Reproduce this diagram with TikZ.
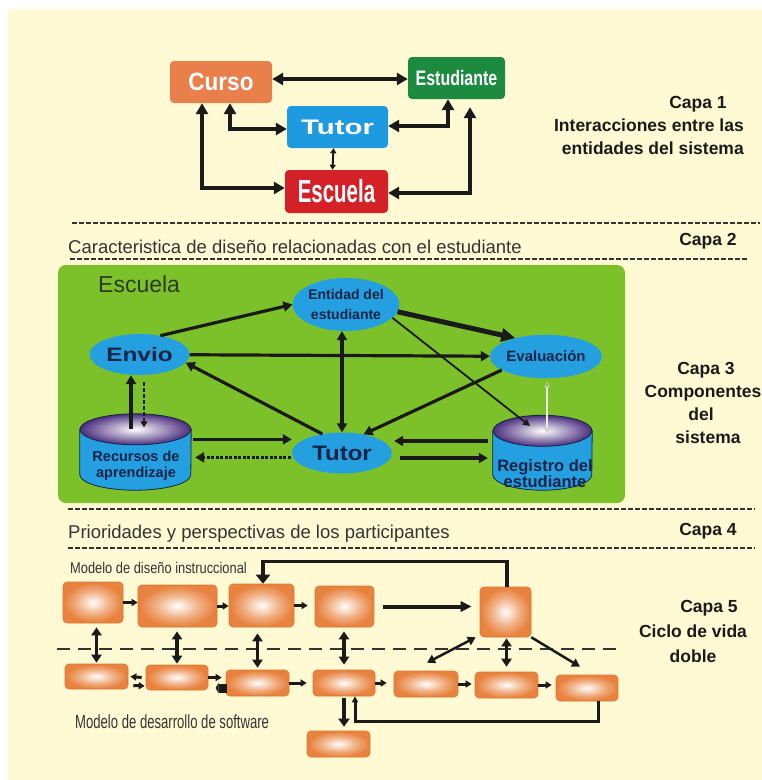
\documentclass[tikz,border=0pt]{standalone}
\usepackage{fontspec}
\setmainfont{Liberation Sans}
\newfontfamily\nbA[FakeStretch=0.9]{Liberation Sans}
\newfontfamily\nbE[FakeStretch=0.64]{Liberation Sans}
\newfontfamily\nbS[FakeStretch=0.76]{Liberation Sans}
\newfontfamily\nbW[FakeStretch=1.4]{Liberation Sans}
\newfontfamily\nbV[FakeStretch=1.14]{Liberation Sans}
\newfontfamily\nbU[FakeStretch=1.25]{Liberation Sans}
\newfontfamily\nrA[FakeStretch=0.83]{Liberation Sans}
\newfontfamily\nrB[FakeStretch=0.69]{Liberation Sans}
\usetikzlibrary{arrows.meta,shapes.geometric}
\newcommand\fz[1]{\fontsize{#1}{#1}\selectfont}
\definecolor{bgY}{HTML}{FFFAD4}
\definecolor{cOr}{HTML}{E9804C}
\definecolor{cGr}{HTML}{1C8A3F}
\definecolor{cBl}{HTML}{1E9BE0}
\definecolor{cRd}{HTML}{D42027}
\definecolor{lime}{HTML}{7DC12A}
\definecolor{ellB}{HTML}{24A0E0}
\definecolor{navy}{HTML}{132448}
\definecolor{boxO}{HTML}{E8833F}
\definecolor{boxE}{HTML}{D9752F}
\definecolor{purp}{HTML}{4B2F7E}
\definecolor{dk}{HTML}{1A1A1A}
\definecolor{dk2}{HTML}{333333}
\definecolor{escT}{HTML}{2B3B20}
\pgfdeclareradialshading{boxsh}{\pgfpoint{0bp}{0bp}}{color(0bp)=(white); color(3bp)=(white!85!boxO); color(14bp)=(boxO!65!white); color(24bp)=(boxO); color(50bp)=(boxO)}
% #1 node name, #2 x radius, #3 y radius
\newcommand\mycyl[3]{%
  \path[draw=navy, fill=ellB, line width=0.8pt] ([yshift=-#3pt]#1.north west) -- ([yshift=#3pt]#1.south west)
    arc[start angle=180, end angle=360, x radius=#2pt, y radius=#3pt] -- ([yshift=-#3pt]#1.north east) -- cycle;
  \shade[inner color=white, outer color=purp, draw=navy, line width=0.8pt] ([yshift=-#3pt]#1.north) ellipse [x radius=#2pt, y radius=#3pt];
}
\begin{document}
\begin{tikzpicture}[x=1pt,y=-1pt,
  l1box/.style={rounded corners=4pt, minimum height=42pt, inner sep=0pt, text=white},
  A1/.style={line width=3.8pt, draw=dk, >={Triangle[length=11pt,width=12pt]}},
  capa/.style={font=\bfseries\fz{17.5}, text=dk, inner sep=0pt, anchor=base},
  sect/.style={font=\fz{18.5}, text=dk2, inner sep=0pt, anchor=base west},
  sepline/.style={draw=dk2, line width=1.6pt, dash pattern=on 5pt off 2pt},
  ell/.style={ellipse, fill=ellB, inner sep=0pt, text=navy, align=center},
  a3/.style={line width=3.2pt, draw=dk, >={Triangle[length=9pt,width=10pt]}},
  ob/.style={rounded corners=4pt, inner sep=0pt, shading=boxsh, draw=boxE, line width=0.6pt},
  a5/.style={line width=3pt, draw=dk, >={Triangle[length=6pt,width=7pt]}},
  a5v/.style={line width=3.5pt, draw=dk, >={Triangle[length=8pt,width=10pt]}},
  a5d/.style={line width=2.5pt, draw=dk, >={Triangle[length=8pt,width=9pt]}}
]
\useasboundingbox (0,0) rectangle (762,780);
\fill[white] (0,0) rectangle (762,780);
\fill[bgY] (8,9) rectangle (762,780);

% ---------- Layer 1
\node[l1box, fill=cOr, minimum width=102pt] (cur) at (221,82) {\nbA\bfseries\fz{25}Curso};
\node[l1box, fill=cGr, minimum width=97pt] (est) at (456.5,78) {\nbS\bfseries\fz{21}Estudiante};
\node[l1box, fill=cBl, minimum width=101pt] (tu1) at (337.5,127) {\nbW\bfseries\fz{21}Tutor};
\node[l1box, fill=cRd, minimum width=103pt, minimum height=43pt] (esc) at (336.5,191.5) {\nbE\bfseries\fz{32}Escuela};

\draw[A1,<->] ([yshift=3pt]cur.east) -- ([yshift=-1pt]est.west);
\draw[A1,<->] ([xshift=-19pt]cur.south) |- ([yshift=3.5pt]esc.west);
\draw[A1,<->] ([xshift=9pt]cur.south) |- ([yshift=-2pt]tu1.west);
\draw[A1,<->] ([xshift=-8.5pt]est.south) |- ([yshift=1pt]tu1.east);
\draw[A1,<->] ([xshift=13.5pt,yshift=-8pt]est.south) |- ([yshift=-1.5pt]esc.east);
\draw[line width=2pt, draw=dk, >={Triangle[length=5pt,width=6pt]}, <->] ([xshift=-4pt]tu1.south) -- ([xshift=-4pt]esc.north);

\node[capa] (c1a) at (698,108) {Capa 1};
\node[capa, anchor=base east] (c1b) at (744,131) {Interacciones entre las};
\node[capa, anchor=base east] (c1c) at (744,154) {entidades del sistema};

% ---------- separators and section titles
\draw[sepline] (72,223) -- (760,223);
\node[sect] (t2) at (68,253) {Caracteristica de diseño relacionadas con el estudiante};
\node[capa] (c2) at (708,245) {Capa 2};
\draw[sepline] (70,259) -- (748,259);

\fill[lime, rounded corners=8pt] (58,265) rectangle (625,503);

\draw[sepline] (68,509) -- (755,509);
\node[sect] (t4) at (68,538) {Prioridades y perspectivas de los participantes};
\node[capa] (c4) at (708,535) {Capa 4};
\draw[sepline] (68,548) -- (755,548);

\node[capa] (c3a) at (706,374) {Capa 3};
\node[capa] (c3b) at (703,397) {Componentes};
\node[capa] (c3c) at (701,420) {del};
\node[capa] (c3d) at (708,443) {sistema};

\node[capa] (c5a) at (709,612) {Capa 5};
\node[capa] (c5b) at (693,637) {Ciclo de vida};
\node[capa] (c5c) at (693,662) {doble};

% ---------- Layer 3
\node[anchor=base west, inner sep=0pt, font=\fz{23}, text=escT] (escL) at (98,292) {Escuela};

\node[ell, minimum width=104pt, minimum height=53pt, font=\bfseries\fontsize{14}{20.5}\selectfont] (ent) at (346,304.5) {Entidad del\\estudiante};
\node[ell, minimum width=100pt, minimum height=41pt, font=\nbU\bfseries\fz{19.5}] (env) at (139.5,354.5) {Envio};
\node[ell, minimum width=100pt, minimum height=43.5pt, font=\bfseries\fz{15}] (eva) at (546,356.5) {Evaluación};
\node[ell, minimum width=100pt, minimum height=41pt, font=\nbV\bfseries\fz{21}] (tut) at (342,453) {Tutor};

\node[inner sep=0pt, minimum width=111pt, minimum height=76pt] (rec) at (135.5,452) {};
\node[inner sep=0pt, minimum width=99pt, minimum height=74.5pt] (reg) at (542.5,452.75) {};
\mycyl{rec}{55.5}{15.5}
\mycyl{reg}{49.5}{15.5}
\node[font=\bfseries\fontsize{14.5}{15.5}\selectfont, text=navy, align=center, inner sep=0pt, anchor=base] (rect) at (136,461.5) {Recursos de};
\node[font=\bfseries\fontsize{14.5}{15.5}\selectfont, text=navy, inner sep=0pt, anchor=base] (rect2) at (136,477) {aprendizaje};
\node[font=\bfseries\fz{16.5}, text=navy, inner sep=0pt, anchor=base] (regt) at (545,471) {Registro del};
\node[font=\bfseries\fz{16.5}, text=navy, inner sep=0pt, anchor=base] (regt2) at (545,487) {estudiante};

\draw[a3,->] (env.42) -- (ent.180);
\draw[a3, line width=5pt, ->, >={Triangle[length=14pt,width=13pt]}] (ent.-8) -- (eva.149);
\draw[a3,->] (env) -- (eva);
\draw[a3,->] (tut.136) -- (env.-10);
\draw[a3,<->] (tut.north) -- (tut.north |- ent.south);
\draw[a3,->] (eva.197) -- (tut.41);
\draw[line width=1.8pt, draw=dk, >={Triangle[length=7pt,width=7pt]}, ->] (ent.-16) -- ([shift={(-12.5,-26.75)}]reg.center);
\draw[a3, line width=4.5pt, ->] ([shift={(-4.5,15)}]rec.north) -- ([shift={(-8.5,0)}]env.south);
\draw[line width=1.6pt, draw=dk, dash pattern=on 4pt off 2pt, >={Triangle[length=6pt,width=7pt]}, ->] ([shift={(4.5,6.7)}]env.south) -- ([shift={(8.5,13.5)}]rec.north);
\draw[a3,->] ([shift={(2,-12.6)}]rec.east) -- ([shift={(0,-13.6)}]tut.west);
\draw[a3, dash pattern=on 3pt off 1.5pt, ->] ([shift={(-1,4.4)}]tut.west) -- ([shift={(4,5.4)}]rec.east);
\draw[a3,->] ([shift={(-5,-11.75)}]reg.west) -- ([shift={(2,-12)}]tut.east);
\draw[a3, line width=4.5pt, ->] ([shift={(8,5)}]tut.east) -- ([shift={(-5,5.25)}]reg.west);
\draw[draw=gray!45, line width=0.7pt, double=white!85!gray, double distance=1.4pt, >={Triangle[open,length=5pt,width=6pt]}, <->] ([shift={(1,3.5)}]eva.south) -- ([shift={(4.5,-20)}]reg.center);

% ---------- Layer 5
\draw[draw=dk2, line width=1.8pt, dash pattern=on 13pt off 8pt] (57,649) -- (620,649);
\node[anchor=base west, inner sep=0pt, font=\nrA\fz{15.5}, text=dk2] (m1) at (70,573) {Modelo de diseño instruccional};
\node[anchor=base west, inner sep=0pt, font=\nrB\fz{19}, text=dk2] (m2) at (75,728) {Modelo de desarrollo de software};

\node[ob, minimum width=60pt, minimum height=41pt] (b1) at (93,602.5) {};
\node[ob, minimum width=79pt, minimum height=42pt] (b2) at (177.5,606) {};
\node[ob, minimum width=65pt, minimum height=43pt] (b3) at (261.5,605.5) {};
\node[ob, minimum width=59pt, minimum height=41pt] (b4) at (344.5,606.5) {};
\node[ob, minimum width=51pt, minimum height=50pt] (b5) at (505.5,612) {};
\node[ob, minimum width=63pt, minimum height=25pt] (c1) at (96.5,676.5) {};
\node[ob, minimum width=62pt, minimum height=25pt] (c2) at (177,677.5) {};
\node[ob, minimum width=63pt, minimum height=26pt] (c3) at (257.5,683) {};
\node[ob, minimum width=62pt, minimum height=26pt] (c4) at (344,683) {};
\node[ob, minimum width=64pt, minimum height=26pt] (c5) at (426,684) {};
\node[ob, minimum width=63pt, minimum height=26pt] (c6) at (506.5,685) {};
\node[ob, minimum width=62pt, minimum height=26pt] (c7) at (587,688) {};
\node[ob, minimum width=63pt, minimum height=26pt] (c8) at (338.5,744) {};

\draw[a5,->] (b1.east) -- (b1.east -| b2.west);
\draw[a5,->] (b2.east) -- (b2.east -| b3.west);
\draw[a5,->, shorten >=7pt] (b3.east) -- (b3.east -| b4.west);
\draw[a5, line width=4pt, ->, >={Triangle[length=11pt,width=10pt]}, shorten <=9pt, shorten >=8pt] (b4.east) -- (b4.east -| b5.west);
\draw[a5, line width=3.5pt, ->, >={Triangle[length=9pt,width=14pt]}] ([xshift=1.5pt]b5.north) -- ++(0,-25) -| ([xshift=1.5pt]b3.north);

\draw[a5v,<->, shorten <=4pt, shorten >=1pt] (c1.north |- b1.south) -- (c1.north);
\draw[a5v,<->, shorten <=4pt, shorten >=1pt] (c2.north |- b2.south) -- (c2.north);
\draw[a5v,<->, shorten <=6pt, shorten >=2pt] (c3.north |- b3.south) -- (c3.north);
\draw[a5v,<->, shorten <=4pt, shorten >=5pt] (c4.north |- b4.south) -- (c4.north);
\draw[a5v,<->, shorten <=1pt, shorten >=5pt] (c6.north |- b5.south) -- (c6.north);
\draw[a5d,<->] ([xshift=-4pt]b5.south west) -- ([shift={(1,-8)}]c5.north);
\draw[a5d,->] (b5.south east) -- ([shift={(-7,-8)}]c7.north);

\draw[a5,->] ([xshift=-4pt]c2.west) -- ([xshift=2pt]c1.east);
\draw[a5,->] ([shift={(5,9)}]c1.east) -- ([shift={(-1,8.5)}]c2.west);
\draw[a5,->, shorten >=4pt] (c2.east) -- (c2.east -| c3.west);
\draw[line width=9pt, draw=dk, -{Triangle[length=3pt,width=11pt]}] ([shift={(1,5)}]c3.west) -- ([shift={(-10,5)}]c3.west);
\draw[a5,->, shorten >=6pt] (c3.east) -- (c3.east -| c4.west);
\draw[a5,->, shorten >=7pt] (c4.east) -- (c4.east -| c5.west);
\draw[a5,->, shorten >=3pt] (c5.east) -- (c5.east -| c6.west);
\draw[a5,->, shorten >=4pt] (c6.east) -- (c6.east -| c7.west);
\draw[a5, line width=4pt, ->, >={Triangle[length=8pt,width=11pt]}, shorten <=2pt, shorten >=4pt] (c4.south) -- (c4.south |- c8.north);
\draw[a5, ->, >={Triangle[length=6pt,width=6pt]}] ([xshift=11pt]c7.south) -- ++(0,20) -| ([xshift=11pt]c4.south);
\end{tikzpicture}
\end{document}
